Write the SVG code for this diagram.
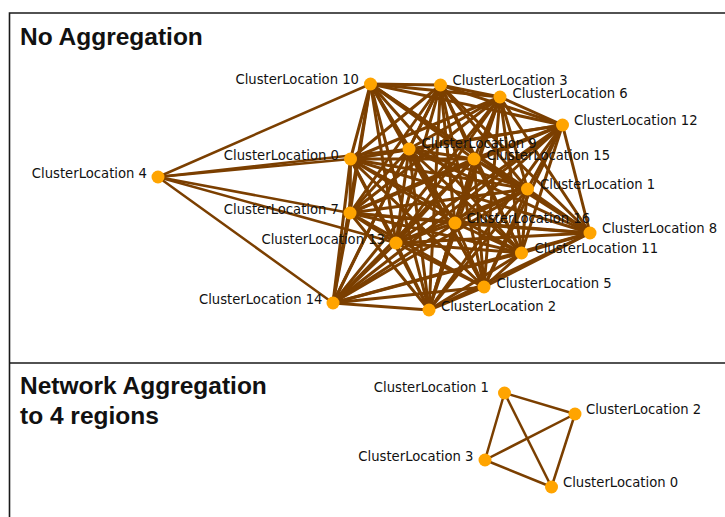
<svg xmlns="http://www.w3.org/2000/svg" width="725" height="517" viewBox="0 0 725 517">
<style>
.frame{stroke:#1a1a1a;stroke-width:1.6;fill:none}
.title{font-family:"Liberation Sans",Arial,sans-serif;font-weight:bold;font-size:24.5px;fill:#111}
.e line{stroke:#7b3f00;stroke-width:3;stroke-linecap:round}
.e line.t{stroke-width:2.5}
.n circle{fill:#ffa400}
.lbl{font-family:"DejaVu Sans",Verdana,sans-serif;font-size:13.2px;fill:#111}
.r{text-anchor:end}
</style>
<rect width="725" height="517" fill="#fff"/>
<g id="frame">
<path class="frame" d="M9.5 517 V13 H725 M9.5 363 H725"/>
</g>
<text class="title" x="20" y="45">No Aggregation</text>
<text class="title" x="20" y="394">Network Aggregation</text>
<text class="title" x="20" y="423.5">to 4 regions</text>

<g id="connectors" class="e">
<line class="t" x1="158" y1="177" x2="370.5" y2="84"/>
<line class="t" x1="158" y1="177" x2="350.5" y2="159"/>
<line class="t" x1="158" y1="177" x2="409" y2="149"/>
<line class="t" x1="158" y1="177" x2="350" y2="213"/>
<line class="t" x1="158" y1="177" x2="396" y2="243"/>
<line class="t" x1="158" y1="177" x2="333" y2="303"/>
<line x1="370.5" y1="84" x2="440.5" y2="85"/>
<line x1="370.5" y1="84" x2="500" y2="97"/>
<line x1="370.5" y1="84" x2="562.5" y2="125"/>
<line x1="370.5" y1="84" x2="409" y2="149"/>
<line x1="370.5" y1="84" x2="474" y2="159"/>
<line x1="370.5" y1="84" x2="350.5" y2="159"/>
<line x1="370.5" y1="84" x2="527.5" y2="189"/>
<line x1="370.5" y1="84" x2="350" y2="213"/>
<line x1="370.5" y1="84" x2="455" y2="223"/>
<line x1="370.5" y1="84" x2="590" y2="233"/>
<line x1="370.5" y1="84" x2="396" y2="243"/>
<line x1="370.5" y1="84" x2="521.5" y2="253"/>
<line x1="370.5" y1="84" x2="484" y2="287"/>
<line x1="370.5" y1="84" x2="333" y2="303"/>
<line x1="370.5" y1="84" x2="429" y2="310"/>
<line x1="440.5" y1="85" x2="500" y2="97"/>
<line x1="440.5" y1="85" x2="562.5" y2="125"/>
<line x1="440.5" y1="85" x2="409" y2="149"/>
<line x1="440.5" y1="85" x2="474" y2="159"/>
<line x1="440.5" y1="85" x2="350.5" y2="159"/>
<line x1="440.5" y1="85" x2="527.5" y2="189"/>
<line x1="440.5" y1="85" x2="350" y2="213"/>
<line x1="440.5" y1="85" x2="455" y2="223"/>
<line x1="440.5" y1="85" x2="590" y2="233"/>
<line x1="440.5" y1="85" x2="396" y2="243"/>
<line x1="440.5" y1="85" x2="521.5" y2="253"/>
<line x1="440.5" y1="85" x2="484" y2="287"/>
<line x1="440.5" y1="85" x2="333" y2="303"/>
<line x1="440.5" y1="85" x2="429" y2="310"/>
<line x1="500" y1="97" x2="562.5" y2="125"/>
<line x1="500" y1="97" x2="409" y2="149"/>
<line x1="500" y1="97" x2="474" y2="159"/>
<line x1="500" y1="97" x2="350.5" y2="159"/>
<line x1="500" y1="97" x2="527.5" y2="189"/>
<line x1="500" y1="97" x2="350" y2="213"/>
<line x1="500" y1="97" x2="455" y2="223"/>
<line x1="500" y1="97" x2="590" y2="233"/>
<line x1="500" y1="97" x2="396" y2="243"/>
<line x1="500" y1="97" x2="521.5" y2="253"/>
<line x1="500" y1="97" x2="484" y2="287"/>
<line x1="500" y1="97" x2="333" y2="303"/>
<line x1="500" y1="97" x2="429" y2="310"/>
<line x1="562.5" y1="125" x2="409" y2="149"/>
<line x1="562.5" y1="125" x2="474" y2="159"/>
<line x1="562.5" y1="125" x2="350.5" y2="159"/>
<line x1="562.5" y1="125" x2="527.5" y2="189"/>
<line x1="562.5" y1="125" x2="350" y2="213"/>
<line x1="562.5" y1="125" x2="455" y2="223"/>
<line x1="562.5" y1="125" x2="590" y2="233"/>
<line x1="562.5" y1="125" x2="396" y2="243"/>
<line x1="562.5" y1="125" x2="521.5" y2="253"/>
<line x1="562.5" y1="125" x2="484" y2="287"/>
<line x1="562.5" y1="125" x2="333" y2="303"/>
<line x1="562.5" y1="125" x2="429" y2="310"/>
<line x1="409" y1="149" x2="474" y2="159"/>
<line x1="409" y1="149" x2="350.5" y2="159"/>
<line x1="409" y1="149" x2="527.5" y2="189"/>
<line x1="409" y1="149" x2="350" y2="213"/>
<line x1="409" y1="149" x2="455" y2="223"/>
<line x1="409" y1="149" x2="590" y2="233"/>
<line x1="409" y1="149" x2="396" y2="243"/>
<line x1="409" y1="149" x2="521.5" y2="253"/>
<line x1="409" y1="149" x2="484" y2="287"/>
<line x1="409" y1="149" x2="333" y2="303"/>
<line x1="409" y1="149" x2="429" y2="310"/>
<line x1="474" y1="159" x2="350.5" y2="159"/>
<line x1="474" y1="159" x2="527.5" y2="189"/>
<line x1="474" y1="159" x2="350" y2="213"/>
<line x1="474" y1="159" x2="455" y2="223"/>
<line x1="474" y1="159" x2="590" y2="233"/>
<line x1="474" y1="159" x2="396" y2="243"/>
<line x1="474" y1="159" x2="521.5" y2="253"/>
<line x1="474" y1="159" x2="484" y2="287"/>
<line x1="474" y1="159" x2="333" y2="303"/>
<line x1="474" y1="159" x2="429" y2="310"/>
<line x1="350.5" y1="159" x2="527.5" y2="189"/>
<line x1="350.5" y1="159" x2="350" y2="213"/>
<line x1="350.5" y1="159" x2="455" y2="223"/>
<line x1="350.5" y1="159" x2="590" y2="233"/>
<line x1="350.5" y1="159" x2="396" y2="243"/>
<line x1="350.5" y1="159" x2="521.5" y2="253"/>
<line x1="350.5" y1="159" x2="484" y2="287"/>
<line x1="350.5" y1="159" x2="333" y2="303"/>
<line x1="350.5" y1="159" x2="429" y2="310"/>
<line x1="527.5" y1="189" x2="350" y2="213"/>
<line x1="527.5" y1="189" x2="455" y2="223"/>
<line x1="527.5" y1="189" x2="590" y2="233"/>
<line x1="527.5" y1="189" x2="396" y2="243"/>
<line x1="527.5" y1="189" x2="521.5" y2="253"/>
<line x1="527.5" y1="189" x2="484" y2="287"/>
<line x1="527.5" y1="189" x2="333" y2="303"/>
<line x1="527.5" y1="189" x2="429" y2="310"/>
<line x1="350" y1="213" x2="455" y2="223"/>
<line x1="350" y1="213" x2="590" y2="233"/>
<line x1="350" y1="213" x2="396" y2="243"/>
<line x1="350" y1="213" x2="521.5" y2="253"/>
<line x1="350" y1="213" x2="484" y2="287"/>
<line x1="350" y1="213" x2="333" y2="303"/>
<line x1="350" y1="213" x2="429" y2="310"/>
<line x1="455" y1="223" x2="590" y2="233"/>
<line x1="455" y1="223" x2="396" y2="243"/>
<line x1="455" y1="223" x2="521.5" y2="253"/>
<line x1="455" y1="223" x2="484" y2="287"/>
<line x1="455" y1="223" x2="333" y2="303"/>
<line x1="455" y1="223" x2="429" y2="310"/>
<line x1="590" y1="233" x2="396" y2="243"/>
<line x1="590" y1="233" x2="521.5" y2="253"/>
<line x1="590" y1="233" x2="484" y2="287"/>
<line x1="590" y1="233" x2="333" y2="303"/>
<line x1="590" y1="233" x2="429" y2="310"/>
<line x1="396" y1="243" x2="521.5" y2="253"/>
<line x1="396" y1="243" x2="484" y2="287"/>
<line x1="396" y1="243" x2="333" y2="303"/>
<line x1="396" y1="243" x2="429" y2="310"/>
<line x1="521.5" y1="253" x2="484" y2="287"/>
<line x1="521.5" y1="253" x2="333" y2="303"/>
<line x1="521.5" y1="253" x2="429" y2="310"/>
<line x1="484" y1="287" x2="333" y2="303"/>
<line x1="484" y1="287" x2="429" y2="310"/>
<line x1="333" y1="303" x2="429" y2="310"/>
<line class="t" x1="504.5" y1="393" x2="575" y2="414"/>
<line class="t" x1="504.5" y1="393" x2="485" y2="460"/>
<line class="t" x1="504.5" y1="393" x2="551.5" y2="487"/>
<line class="t" x1="575" y1="414" x2="485" y2="460"/>
<line class="t" x1="575" y1="414" x2="551.5" y2="487"/>
<line class="t" x1="485" y1="460" x2="551.5" y2="487"/>
</g>

<g id="top-nodes" class="n">
<g id="cl4"><circle cx="158" cy="177" r="6.5"/><text class="lbl r" x="147" y="178">ClusterLocation 4</text></g>
<g id="cl10"><circle cx="370.5" cy="84" r="6.5"/><text class="lbl r" x="359" y="84">ClusterLocation 10</text></g>
<g id="cl3"><circle cx="440.5" cy="85" r="6.5"/><text class="lbl" x="452.5" y="84.5">ClusterLocation 3</text></g>
<g id="cl6"><circle cx="500" cy="97" r="6.5"/><text class="lbl" x="512.5" y="98">ClusterLocation 6</text></g>
<g id="cl12"><circle cx="562.5" cy="125" r="6.5"/><text class="lbl" x="574" y="125">ClusterLocation 12</text></g>
<g id="cl9"><circle cx="409" cy="149" r="6.5"/><text class="lbl" x="421.5" y="148">ClusterLocation 9</text></g>
<g id="cl15"><circle cx="474" cy="159" r="6.5"/><text class="lbl" x="486.5" y="160">ClusterLocation 15</text></g>
<g id="cl0"><circle cx="350.5" cy="159" r="6.5"/><text class="lbl r" x="339" y="160">ClusterLocation 0</text></g>
<g id="cl1"><circle cx="527.5" cy="189" r="6.5"/><text class="lbl" x="540" y="189">ClusterLocation 1</text></g>
<g id="cl7"><circle cx="350" cy="213" r="6.5"/><text class="lbl r" x="339" y="214">ClusterLocation 7</text></g>
<g id="cl16"><circle cx="455" cy="223" r="6.5"/><text class="lbl" x="466.5" y="223">ClusterLocation 16</text></g>
<g id="cl8"><circle cx="590" cy="233" r="6.5"/><text class="lbl" x="602" y="233">ClusterLocation 8</text></g>
<g id="cl13"><circle cx="396" cy="243" r="6.5"/><text class="lbl r" x="385" y="244">ClusterLocation 13</text></g>
<g id="cl11"><circle cx="521.5" cy="253" r="6.5"/><text class="lbl" x="534.5" y="253">ClusterLocation 11</text></g>
<g id="cl5"><circle cx="484" cy="287" r="6.5"/><text class="lbl" x="496.5" y="288">ClusterLocation 5</text></g>
<g id="cl14"><circle cx="333" cy="303" r="6.5"/><text class="lbl r" x="322.5" y="304">ClusterLocation 14</text></g>
<g id="cl2"><circle cx="429" cy="310" r="6.5"/><text class="lbl" x="441" y="311">ClusterLocation 2</text></g>
</g>

<g id="bottom-nodes" class="n">
<g id="agg1"><circle cx="504.5" cy="393" r="6.5"/><text class="lbl r" x="489" y="392">ClusterLocation 1</text></g>
<g id="agg2"><circle cx="575" cy="414" r="6.5"/><text class="lbl" x="586" y="414">ClusterLocation 2</text></g>
<g id="agg3"><circle cx="485" cy="460" r="6.5"/><text class="lbl r" x="473.5" y="461">ClusterLocation 3</text></g>
<g id="agg0"><circle cx="551.5" cy="487" r="6.5"/><text class="lbl" x="563" y="487">ClusterLocation 0</text></g>
</g>
</svg>
